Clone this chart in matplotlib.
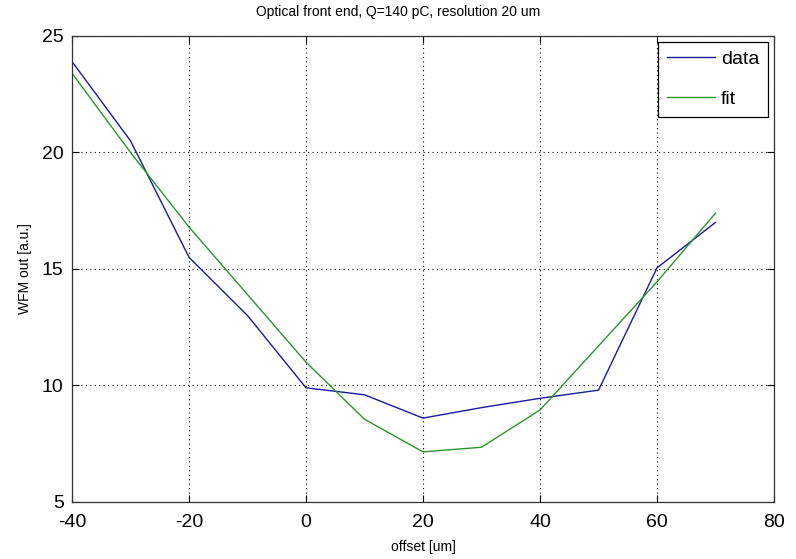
import numpy as np
import matplotlib.pyplot as plt

# offset [um] and measured / fitted WFM output
offset = [-40, -30, -20, -10, 0, 10, 20, 30, 40, 50, 60, 70]
data = [23.9, 20.5, 15.5, 13.0, 9.9, 9.6, 8.6, 9.05, 9.45, 9.8, 15.05, 17.0]
fit = [23.4, 20.0, 16.8, 13.9, 11.0, 8.55, 7.15, 7.35, 8.95, 11.7, 14.45, 17.4]

xticks = [-40, -20, 0, 20, 40, 60, 80]
yticks = [5, 10, 15, 20, 25]

plt.rcParams['font.family'] = ['Liberation Sans', 'DejaVu Sans']
plt.rcParams['axes.unicode_minus'] = False

fig = plt.figure(figsize=(7.96, 5.59), dpi=100)
ax = fig.add_axes([0.0905, 0.102, 0.8819, 0.8336])

ax.plot(offset, data, color='#1a1a9c', lw=1.0, label='data')
ax.plot(offset, fit, color='#2a962a', lw=1.0, label='fit')

ax.set_xlim(-40, 80)
ax.set_ylim(5, 25)
ax.set_xticks(xticks)
ax.set_yticks(yticks)
ax.tick_params(direction='in', top=True, right=True, labelsize=14, length=5, width=0.8)
ax.tick_params(axis='x', pad=9)
ax.tick_params(axis='y', pad=6)
ax.grid(True, color='black', linestyle=(0, (1, 3)), linewidth=0.8)
for sp in ax.spines.values():
    sp.set_linewidth(0.9)
    sp.set_color('#333333')

fig.text(0.5, 0.978, "Optical front end, Q=140 pC, resolution 20 um",
         fontsize=10, ha='center', va='center')
ax.set_xlabel("offset [um]", fontsize=10, labelpad=6)
ax.set_ylabel("WFM out [a.u.]", fontsize=10, labelpad=7)

leg = ax.legend(loc='upper right', fontsize=14, fancybox=False, framealpha=1,
                edgecolor='black', handlelength=2.5, borderaxespad=0.3,
                handletextpad=0.3, labelspacing=1.15, borderpad=0.45)
leg.get_frame().set_linewidth(0.9)

fig.savefig('out.png', dpi=100)
